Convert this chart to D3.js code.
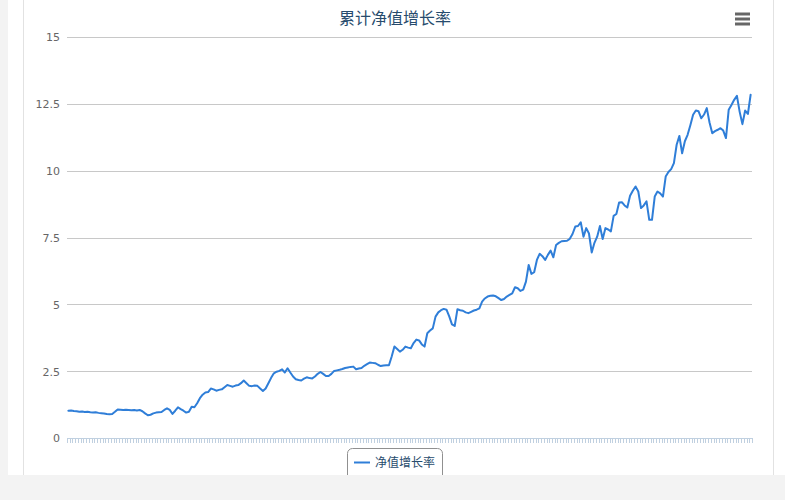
<!DOCTYPE html>
<html>
<head>
<meta charset="utf-8">
<script src="https://cdn.jsdelivr.net/npm/d3@7"></script>
<style>
  html, body { margin: 0; padding: 0; background: #f3f3f3; }
  svg { display: block; }
</style>
</head>
<body>
<svg id="chart" width="785" height="500"></svg>
<script>
const title = "累计净值增长率";
const seriesName = "净值增长率";
const yTicks = [0, 2.5, 5, 7.5, 10, 12.5, 15];
const values = [
  1.02, 1.03, 1.01, 1.00, 0.98, 0.99, 0.97, 0.98, 0.96, 0.95,
  0.96, 0.94, 0.93, 0.92, 0.90, 0.89, 0.90, 0.98, 1.07, 1.06,
  1.05, 1.06, 1.05, 1.04, 1.05, 1.03, 1.05, 1.00, 0.92, 0.85,
  0.87, 0.92, 0.95, 0.96, 0.97, 1.05, 1.11, 1.05, 0.90, 1.02,
  1.15, 1.08, 1.02, 0.95, 0.98, 1.17, 1.15, 1.30, 1.49, 1.62,
  1.70, 1.72, 1.85, 1.82, 1.77, 1.80, 1.82, 1.90, 1.98, 1.95,
  1.92, 1.96, 1.98, 2.05, 2.15, 2.05, 1.95, 1.94, 1.96, 1.95,
  1.85, 1.76, 1.85, 2.05, 2.25, 2.42, 2.48, 2.51, 2.57, 2.45,
  2.61, 2.45, 2.30, 2.20, 2.17, 2.15, 2.22, 2.27, 2.24, 2.23,
  2.30, 2.40, 2.47, 2.40, 2.32, 2.32, 2.40, 2.51, 2.53, 2.55,
  2.58, 2.62, 2.64, 2.66, 2.67, 2.57, 2.60, 2.62, 2.70, 2.76,
  2.82, 2.81, 2.80, 2.74, 2.69, 2.71, 2.72, 2.72, 3.05, 3.42,
  3.33, 3.23, 3.30, 3.42, 3.38, 3.36, 3.55, 3.68, 3.65, 3.50,
  3.42, 3.92, 4.02, 4.10, 4.54, 4.70, 4.78, 4.83, 4.80, 4.55,
  4.25, 4.19, 4.82, 4.78, 4.76, 4.70, 4.67, 4.72, 4.77, 4.80,
  4.85, 5.10, 5.22, 5.29, 5.32, 5.33, 5.30, 5.23, 5.16, 5.20,
  5.29, 5.35, 5.41, 5.64, 5.60, 5.50, 5.55, 5.85, 6.47, 6.14,
  6.20, 6.66, 6.89, 6.80, 6.66, 6.85, 7.01, 6.76, 7.22, 7.30,
  7.36, 7.37, 7.38, 7.45, 7.63, 7.91, 7.93, 8.07, 7.53, 7.85,
  7.65, 6.94, 7.30, 7.53, 7.93, 7.44, 7.85, 7.80, 7.73, 8.31,
  8.38, 8.81, 8.82, 8.70, 8.62, 9.06, 9.25, 9.41, 9.22, 8.60,
  8.70, 8.85, 8.16, 8.16, 9.03, 9.22, 9.15, 9.03, 9.78, 9.95,
  10.06, 10.28, 10.97, 11.30, 10.65, 11.10, 11.34, 11.70, 12.09, 12.25,
  12.22, 11.96, 12.10, 12.34, 11.80, 11.40, 11.48, 11.53, 11.59, 11.50,
  11.22, 12.28, 12.46, 12.65, 12.80, 12.20, 11.74, 12.25, 12.12, 12.84
];
const categories = values.map((_, i) => String(i + 1));

const svg = d3.select("#chart");
const font = "'DejaVu Sans', 'Noto Sans CJK SC', sans-serif";

// page panel
svg.append("rect").attr("x", 8).attr("y", 0).attr("width", 777).attr("height", 475).attr("fill", "#ffffff");
svg.append("line").attr("x1", 23.5).attr("x2", 23.5).attr("y1", 0).attr("y2", 475).attr("stroke", "#e2e2e2");
svg.append("line").attr("x1", 773.5).attr("x2", 773.5).attr("y1", 0).attr("y2", 475).attr("stroke", "#e2e2e2");

const x = d3.scaleBand().domain(categories).range([67, 752]);
const y = d3.scaleLinear().domain([0, 15]).range([438, 37]);

// grid lines + y labels
const yAxis = d3.axisLeft(y).tickValues(yTicks).tickSize(0).tickPadding(7)
  .tickFormat(d => String(d));
const gy = svg.append("g").attr("transform", "translate(60,0)").call(yAxis);
gy.select(".domain").remove();
gy.selectAll("text").attr("fill", "#666666").style("font-family", font).style("font-size", "11px").attr("x", 0).attr("dx", 0).attr("dy", "0.35em");

svg.append("g").selectAll("line").data(yTicks.filter(d => d > 0)).join("line")
  .attr("x1", 67).attr("x2", 752)
  .attr("y1", d => Math.round(y(d)) + 0.5).attr("y2", d => Math.round(y(d)) + 0.5)
  .attr("stroke", "#c8c8c8").attr("stroke-width", 1);

// x axis
const boundaries = categories.map(c => x(c)).concat([752]);
svg.append("g").selectAll("line").data(boundaries).join("line")
  .attr("x1", d => Math.round(d) + 0.5).attr("x2", d => Math.round(d) + 0.5)
  .attr("y1", 438).attr("y2", 443)
  .attr("stroke", "#c0d0e0").attr("stroke-width", 1);
svg.append("line").attr("x1", 67).attr("x2", 752).attr("y1", 438.5).attr("y2", 438.5)
  .attr("stroke", "#c0d0e0").attr("stroke-width", 1);

// line
const line = d3.line()
  .x((d, i) => x(categories[i]) + x.bandwidth() / 2)
  .y(d => y(d));
svg.append("path").datum(values).attr("d", line)
  .attr("fill", "none").attr("stroke", "#2f7ed8").attr("stroke-width", 2)
  .attr("stroke-linejoin", "round").attr("stroke-linecap", "round");

// title
svg.append("text").attr("x", 395).attr("y", 24).attr("text-anchor", "middle")
  .attr("fill", "#274b6d").style("font-family", font).style("font-size", "16px").text(title);

// menu icon
[14, 19, 24].forEach(yy => {
  svg.append("line").attr("x1", 735).attr("x2", 750).attr("y1", yy).attr("y2", yy)
    .attr("stroke", "#666666").attr("stroke-width", 3);
});

// legend
const lg = svg.append("g");
lg.append("rect").attr("x", 347.5).attr("y", 448.5).attr("width", 95).attr("height", 34).attr("rx", 5)
  .attr("fill", "#ffffff").attr("stroke", "#909090").attr("stroke-width", 1);
lg.append("line").attr("x1", 354).attr("x2", 370).attr("y1", 462.5).attr("y2", 462.5)
  .attr("stroke", "#2f7ed8").attr("stroke-width", 2);
lg.append("text").attr("x", 375).attr("y", 467).attr("fill", "#274b6d")
  .style("font-family", font).style("font-size", "12px").text(seriesName);

// bottom page strip covering legend overflow
svg.append("rect").attr("x", 0).attr("y", 475).attr("width", 785).attr("height", 25).attr("fill", "#f3f3f3");
</script>
</body>
</html>
